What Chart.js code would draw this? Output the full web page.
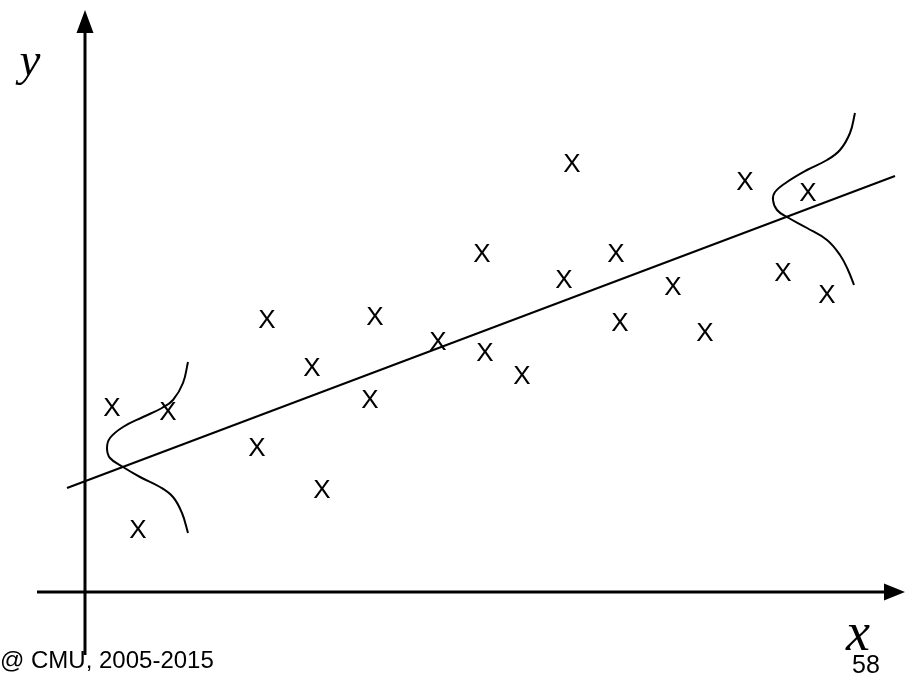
<!DOCTYPE html>
<html>
<head>
<meta charset="utf-8">
<script src="https://cdn.jsdelivr.net/npm/chart.js"></script>
<style>
  html, body { margin: 0; padding: 0; background: #fff; }
  #wrap { width: 915px; height: 673px; position: relative; }
</style>
</head>
<body>
<div id="wrap"><canvas id="c"></canvas></div>
<script>
// sample points (origin at the axes crossing)
const pointsX = [2.7, 8.3, 5.3, 17.2, 18.2, 22.7, 23.7, 29.0, 28.5, 35.3, 39.7, 40.0,
                 43.7, 48.7, 47.9, 53.1, 53.5, 58.8, 62.0, 66.0, 72.3, 69.8, 74.2];
const pointsY = [18.4, 18.0, 6.2, 14.4, 27.2, 22.4, 10.2, 27.5, 19.2, 25.0, 33.8, 23.9,
                 21.6, 42.8, 31.2, 33.8, 26.9, 30.5, 25.9, 41.0, 39.9, 31.9, 29.7];

// fitted line end points
const lineX = [-1.8, 81.0];
const lineY = [10.4, 41.6];

// noise curves drawn around the line
const leftCurveX = [10.3, 9.8, 8.8, 7.7, 5.8, 3.8, 2.5, 2.2, 2.5, 3.8, 5.5, 7.5, 8.8, 9.7, 10.3];
const leftCurveY = [23.0, 20.9, 19.2, 18.4, 17.5, 16.5, 15.4, 14.4, 13.4, 12.5, 11.5, 10.5, 9.5, 7.9, 5.9];
const rightCurveX = [77.0, 76.5, 75.5, 74.2, 72.2, 70.2, 69.0, 68.8, 69.2, 70.2, 72.2, 74.2, 75.5, 76.3, 76.9];
const rightCurveY = [47.9, 45.9, 44.2, 43.2, 42.2, 41.0, 40.0, 39.2, 38.2, 37.5, 36.4, 35.2, 33.7, 32.2, 30.7];

// axis extents
const xAxisEnds = [-4.8, 82.0];
const yAxisEnds = [-6.3, 58.2];

const zip = (xs, ys) => xs.map((x, i) => ({ x: x, y: ys[i] }));

// "X" glyph used as point marker
const mark = document.createElement('canvas');
mark.width = 26; mark.height = 28;
const mctx = mark.getContext('2d');
mctx.font = '26px "Liberation Sans", Arial, sans-serif';
mctx.textAlign = 'center';
mctx.textBaseline = 'middle';
mctx.fillStyle = '#000';
mctx.fillText('X', 13, 15);

// axes with arrow heads, axis names and footer
const axesPlugin = {
  id: 'axes',
  beforeDatasetsDraw(chart) {
    const { ctx, scales: { x, y } } = chart;
    const ox = x.getPixelForValue(0), oy = y.getPixelForValue(0);
    const x0 = x.getPixelForValue(xAxisEnds[0]), x1 = x.getPixelForValue(xAxisEnds[1]);
    const y0 = y.getPixelForValue(yAxisEnds[0]), y1 = y.getPixelForValue(yAxisEnds[1]);
    ctx.save();
    ctx.strokeStyle = '#000';
    ctx.fillStyle = '#000';
    ctx.lineWidth = 3;
    ctx.beginPath();
    ctx.moveTo(x0, oy); ctx.lineTo(x1 - 18, oy);
    ctx.moveTo(ox, y0); ctx.lineTo(ox, y1 + 20);
    ctx.stroke();
    // arrow heads
    ctx.beginPath();
    ctx.moveTo(x1, oy); ctx.lineTo(x1 - 21, oy - 8.5); ctx.lineTo(x1 - 21, oy + 8.5); ctx.closePath();
    ctx.moveTo(ox, y1); ctx.lineTo(ox - 8.5, y1 + 23); ctx.lineTo(ox + 8.5, y1 + 23); ctx.closePath();
    ctx.fill();
    // axis names
    ctx.font = 'italic 47px "Liberation Serif", "Times New Roman", serif';
    ctx.textAlign = 'center';
    ctx.textBaseline = 'alphabetic';
    ctx.fillText('y', 30, 75);
    ctx.font = 'italic 54px "Liberation Serif", "Times New Roman", serif';
    ctx.fillText('x', 858, 650);
    // footer
    ctx.font = '24px "Liberation Sans", Arial, sans-serif';
    ctx.textAlign = 'left';
    ctx.fillText('@ CMU, 2005-2015', 0, 668);
    ctx.font = '25px "Liberation Sans", Arial, sans-serif';
    ctx.fillText('58', 852, 673);
    ctx.restore();
  }
};

const curveStyle = {
  showLine: true, pointRadius: 0, borderColor: '#000', borderWidth: 2,
  tension: 0.4, fill: false
};

new Chart(document.getElementById('c'), {
  type: 'scatter',
  data: {
    datasets: [
      Object.assign({ data: zip(lineX, lineY) }, curveStyle, { tension: 0 }),
      Object.assign({ data: zip(leftCurveX, leftCurveY) }, curveStyle),
      Object.assign({ data: zip(rightCurveX, rightCurveY) }, curveStyle),
      {
        data: zip(pointsX, pointsY),
        pointStyle: mark,
        pointRadius: 10,
        pointHoverRadius: 10
      }
    ]
  },
  options: {
    responsive: true,
    maintainAspectRatio: false,
    animation: false,
    events: [],
    layout: { padding: 0, autoPadding: false },
    plugins: { legend: { display: false }, tooltip: { enabled: false } },
    scales: {
      x: { type: 'linear', min: -8.5, max: 83.0, display: false },
      y: { type: 'linear', min: -8.1, max: 59.2, display: false }
    }
  },
  plugins: [axesPlugin]
});
</script>
</body>
</html>
